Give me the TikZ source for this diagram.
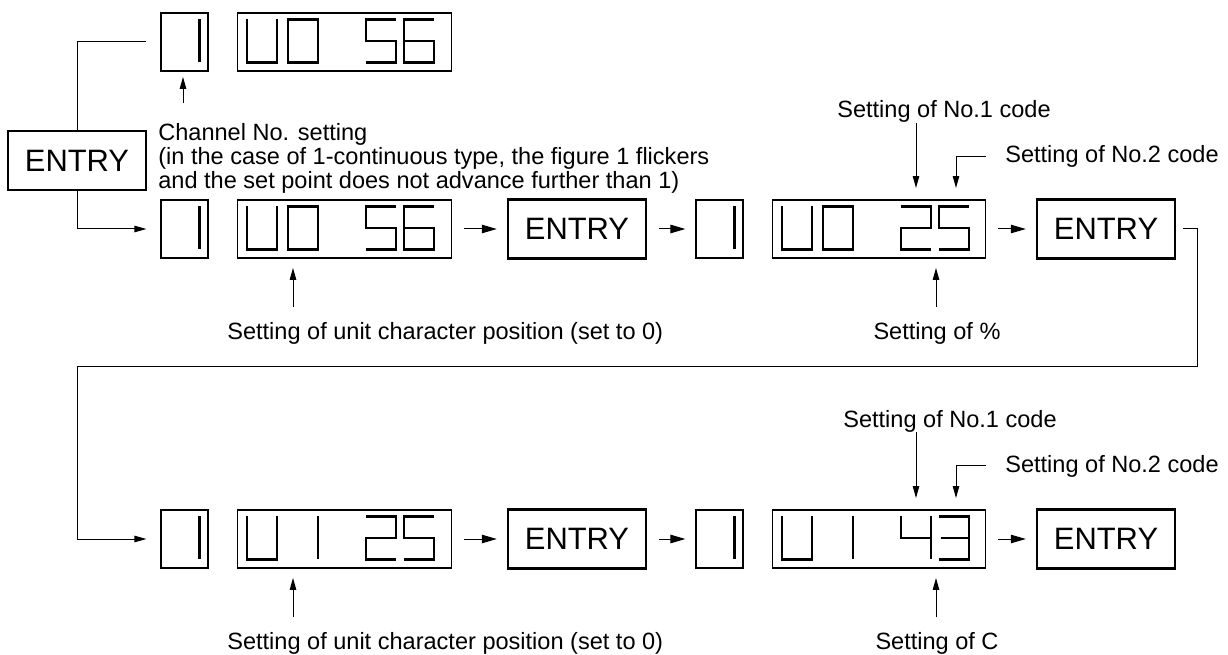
\documentclass[tikz,border=0pt]{standalone}
\usepackage{fontspec}
\setmainfont{Liberation Sans}
\usetikzlibrary{calc,arrows.meta}

% seven segment readouts: 4 cells in a display, 1 cell in a channel box
\newcommand{\panel}[5]{%
  \pic at ($(#1.north west)+(10,7)$) {#2};
  \pic at ($(#1.north west)+(51,7)$) {#3};
  \pic at ($(#1.north west)+(129,7)$) {#4};
  \pic at ($(#1.north west)+(167,7)$) {#5};}
\newcommand{\chan}[1]{\pic at ($(#1.north west)+(9,7)$) {dOne};}

\begin{document}
\begin{tikzpicture}[x=0.02cm, y=-0.02cm,
    seg/.style={line width=0.045cm, line join=miter},
    chbox/.style={draw, line width=0.025cm, minimum width=0.94cm, minimum height=1.16cm, inner sep=0},
    dispbox/.style={draw, line width=0.025cm, minimum width=4.27cm, minimum height=1.16cm, inner sep=0},
    entrybox/.style={draw, line width=0.05cm, minimum width=2.76cm, minimum height=1.18cm, inner sep=0, font=\fontsize{17.6}{20}\selectfont},
    lbl/.style={inner sep=0, font=\fontsize{13.4}{13.7}\selectfont},
    link/.style={line width=0.02cm},
    pt/.style={link, -{Triangle[length=0.24cm, width=0.13cm]}},
    flow/.style={link, -{Triangle[length=0.3cm, width=0.17cm]}, shorten <=0.24cm, shorten >=0.2cm},
    dU/.pic={\draw[seg] (0,0) |- (30,43) -- (30,0);},
    dZero/.pic={\draw[seg] (0,0) rectangle (30,43);},
    dOne/.pic={\draw[seg] (30,0) -- (30,43);},
    dTwo/.pic={\draw[seg] (0,0) -- (30,0) |- (0,21.5) |- (30,43);},
    dThree/.pic={\draw[seg] (0,0) -- (30,0) -- (30,43) -- (0,43) (2,21.5) -- (30,21.5);},
    dFour/.pic={\draw[seg] (0,0) |- (30,21.5) (30,0) -- (30,43);},
    dFive/.pic={\draw[seg] (30,0) -| (0,21.5) -| (30,43) -- (0,43);},
    dSix/.pic={\draw[seg] (30,0) -| (0,43) -| (30,21.5) -- (0,21.5);}]
    \useasboundingbox (0,0) rectangle (1228,655);

    % entry key and the two ways out of it
    \node[entrybox] (ent0) at (77,160.5) {ENTRY};
    \node[chbox] (top1) at (184.5,42) {};
    \node[dispbox] (top2) at (344.5,42) {};
    \chan{top1}
    \panel{top2}{dU}{dZero}{dFive}{dSix}

    % first row
    \node[chbox] (r1a) at (184.5,229) {};
    \node[dispbox] (r1b) at (344.5,229) {};
    \node[entrybox] (r1c) at (577,229) {ENTRY};
    \node[chbox] (r1d) at (719.5,229) {};
    \node[dispbox] (r1e) at (879,229) {};
    \node[entrybox] (r1f) at (1106,229) {ENTRY};
    \chan{r1a}
    \panel{r1b}{dU}{dZero}{dFive}{dSix}
    \chan{r1d}
    \panel{r1e}{dU}{dZero}{dTwo}{dFive}

    % second row
    \node[chbox] (r2a) at (184.5,539) {};
    \node[dispbox] (r2b) at (344.5,539) {};
    \node[entrybox] (r2c) at (577,539) {ENTRY};
    \node[chbox] (r2d) at (719.5,539) {};
    \node[dispbox] (r2e) at (879,539) {};
    \node[entrybox] (r2f) at (1106,539) {ENTRY};
    \chan{r2a}
    \panel{r2b}{dU}{dOne}{dTwo}{dFive}
    \chan{r2d}
    \panel{r2e}{dU}{dOne}{dFour}{dThree}

    \draw[link] (ent0.north) |- ([xshift=-0.28cm]top1.west);
    \draw[pt, shorten >=0.28cm] (ent0.south) |- (r1a.west);
    \draw[flow] (r1b) -- (r1c);
    \draw[flow] (r1c) -- (r1d);
    \draw[flow] (r1e) -- (r1f);
    \draw[flow] (r2b) -- (r2c);
    \draw[flow] (r2c) -- (r2d);
    \draw[flow] (r2e) -- (r2f);
    \coordinate (wrapR) at (1197,367);
    \coordinate (wrapL) at (77,367);
    \draw[pt, shorten <=0.14cm, shorten >=0.28cm] (r1f.east) -| (wrapR) -- (wrapL) |- (r2a.west);

    % notes
    \node[lbl, anchor=north west, align=left] (chnote) at (158,123) {Channel No. setting\\(in the case of 1-continuous type, the figure 1 flickers\\and the set point does not advance further than 1)};
    \node[lbl, anchor=base west] (s1a) at (227,339) {Setting of unit character position (set to 0)};
    \node[lbl, anchor=base] (s1b) at (937,339) {Setting of \%};
    \node[lbl, anchor=base west] (c1a) at (837,118) {Setting of No.1 code};
    \node[lbl, anchor=base west] (c2a) at (1005,163) {Setting of No.2 code};
    \node[lbl, anchor=base west] (s2a) at (227,649) {Setting of unit character position (set to 0)};
    \node[lbl, anchor=base] (s2b) at (937,649) {Setting of C};
    \node[lbl, anchor=base west] (c1b) at (843,427) {Setting of No.1 code};
    \node[lbl, anchor=base west] (c2b) at (1005,472) {Setting of No.2 code};

    \coordinate (u0) at (183,77);
    \coordinate (u1a) at (293,268);
    \coordinate (u1b) at (936,268);
    \coordinate (n1a) at (916,188);
    \coordinate (n2a) at (956,188);
    \coordinate (u2a) at (293,578);
    \coordinate (u2b) at (936,578);
    \coordinate (n1b) at (916,498);
    \coordinate (n2b) at (956,498);
    \draw[pt, shorten <=0.4cm] (u0 |- chnote.north) -- (u0);
    \draw[pt, shorten <=0.3cm] (u1a |- s1a.north) -- (u1a);
    \draw[pt, shorten <=0.3cm] (u1b |- s1b.north) -- (u1b);
    \draw[pt] (n1a |- c1a.south) -- (n1a);
    \draw[pt] ([xshift=-0.38cm]c2a.west) -| (n2a);
    \draw[pt, shorten <=0.3cm] (u2a |- s2a.north) -- (u2a);
    \draw[pt, shorten <=0.3cm] (u2b |- s2b.north) -- (u2b);
    \draw[pt] (n1b |- c1b.south) -- (n1b);
    \draw[pt] ([xshift=-0.38cm]c2b.west) -| (n2b);
\end{tikzpicture}
\end{document}
